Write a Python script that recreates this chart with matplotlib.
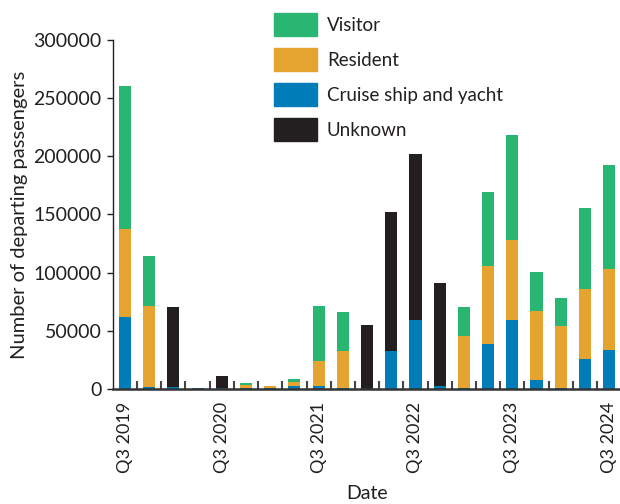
import matplotlib
matplotlib.use("Agg")
import matplotlib.pyplot as plt
import numpy as np
from matplotlib.patches import Patch

plt.rcParams['font.family'] = ['Lato', 'DejaVu Sans']

quarters = ["Q3 2019", "Q4 2019", "Q1 2020", "Q2 2020", "Q3 2020", "Q4 2020", "Q1 2021",
            "Q2 2021", "Q3 2021", "Q4 2021", "Q1 2022", "Q2 2022", "Q3 2022", "Q4 2022",
            "Q1 2023", "Q2 2023", "Q3 2023", "Q4 2023", "Q1 2024", "Q2 2024", "Q3 2024"]
cruise = [62000, 2000, 1500, 1000, 1000, 1000, 1000,
          2800, 2600, 1000, 500, 32500, 59300, 2600,
          1000, 39000, 59300, 7700, 1100, 25800, 33500]
resident = [75500, 69500, 0, 0, 0, 2500, 1800,
            3500, 21400, 31700, 0, 0, 0, 0,
            44600, 67000, 68800, 59300, 53100, 60200, 69700]
visitor = [122500, 43000, 0, 0, 0, 1800, 0,
           2000, 47400, 33500, 0, 0, 0, 0,
           25000, 63300, 90200, 33600, 24000, 69600, 89400]
unknown = [0, 0, 69000, 0, 10000, 0, 0,
           0, 0, 0, 54500, 119600, 142700, 88500,
           0, 0, 0, 0, 0, 0, 0]
tick_labels = ["Q3 2019", "Q3 2020", "Q3 2021", "Q3 2022", "Q3 2023", "Q3 2024"]

c_vis = "#29B673"
c_res = "#E5A330"
c_cru = "#007DB8"
c_unk = "#231F20"

fig = plt.figure(figsize=(6.2, 5.04), dpi=100)
ax = fig.add_axes([0.182, 0.228, 0.820, 0.693])

x = np.arange(len(quarters))
cr = np.array(cruise); re = np.array(resident); vi = np.array(visitor); un = np.array(unknown)
w = 0.5
ax.bar(x, cr, w, color=c_cru)
ax.bar(x, re, w, bottom=cr, color=c_res)
ax.bar(x, vi, w, bottom=cr + re, color=c_vis)
ax.bar(x, un, w, bottom=cr + re + vi, color=c_unk)

ax.set_xlim(-0.5, 20.5)
ax.set_ylim(0, 300000)
ax.set_yticks(np.arange(0, 300001, 50000))
ax.set_yticklabels([str(v) for v in range(0, 300001, 50000)], fontsize=14, color="#231F20")
pos = [quarters.index(t) for t in tick_labels]
ax.set_xticks(pos)
ax.set_xticklabels(tick_labels, rotation=90, fontsize=13, color="#231F20")
ax.set_xticks(np.arange(0.5, 20.5, 1), minor=True)
ax.tick_params(axis='x', which='major', length=0, pad=9)
ax.tick_params(axis='x', which='minor', direction='in', length=6, width=1.5, color="#444444")
ax.tick_params(axis='y', which='major', direction='out', length=4, width=1, color="#231F20", pad=4)

for s in ['top', 'right']:
    ax.spines[s].set_visible(False)
ax.spines['left'].set_color("#231F20")
ax.spines['left'].set_linewidth(1)
ax.spines['bottom'].set_color("#333333")
ax.spines['bottom'].set_linewidth(1.8)

ax.set_ylabel("Number of departing passengers", fontsize=14.5, color="#231F20", labelpad=4)
ax.set_xlabel("Date", fontsize=14, color="#231F20", labelpad=9)

handles = [Patch(color=c_vis, label="Visitor"), Patch(color=c_res, label="Resident"),
           Patch(color=c_cru, label="Cruise ship and yacht"), Patch(color=c_unk, label="Unknown")]
fig.legend(handles=handles, loc='upper left', bbox_to_anchor=(0.42, 1.0), frameon=False,
           fontsize=13.5, handlelength=2.3, handleheight=1.5, labelspacing=0.65, handletextpad=0.55,
           labelcolor="#231F20", borderpad=0.2)

fig.savefig("out.png", dpi=100)
